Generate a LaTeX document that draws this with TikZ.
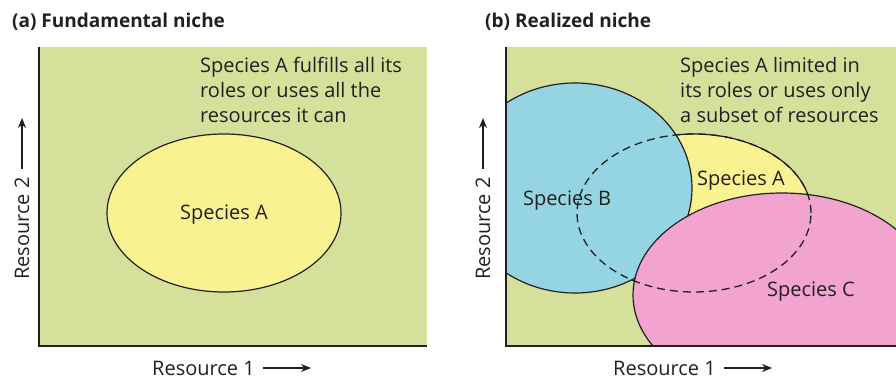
\documentclass[tikz,border=0pt]{standalone}
\usepackage{fontspec}
\setmainfont{Open Sans}
\usetikzlibrary{arrows.meta}
\definecolor{ink}{RGB}{35,31,32}
\definecolor{nichegreen}{RGB}{213,225,154}
\definecolor{nicheyellow}{RGB}{249,242,145}
\definecolor{nicheblue}{RGB}{149,213,227}
\definecolor{nichepink}{RGB}{242,163,207}

\begin{document}
\begin{tikzpicture}[x=1pt,y=-1pt,
        every node/.style={font=\fontsize{20}{25}\selectfont, text=ink, inner sep=0pt},
        title/.style={font=\bfseries\fontsize{19}{22}\selectfont, anchor=west},
        niche/.style={draw=ink, line width=1.2pt},
        axis/.style={draw=ink, line width=1.8pt},
        pointer/.style={-{Stealth[length=10pt,width=8pt]}, line width=1.3pt, draw=ink}]
        \useasboundingbox (0,0) rectangle (896,379);
        % (a) fundamental niche
        \node[title] (titleA) at (12,22) {(a) Fundamental niche};
        \fill[nichegreen] (39,47) rectangle (427,346);
        \filldraw[niche, fill=nicheyellow] (224,213) ellipse [x radius=117pt, y radius=79pt];
        \draw[axis] (39,47) -- (39,346) -- (427,346);
        \node[anchor=north west, align=left] (roleA) at (200,57) {Species A fulfills all its\\roles or uses all the\\resources it can};
        \node (spA) at (224,215) {Species A};
        \node[anchor=west] (resXa) at (152,368) {Resource 1};
        \coordinate (tipXa) at (311,368);
        \draw[pointer] ([xshift=8pt]resXa.east) -- (tipXa);
        \node[rotate=90, anchor=west] (resYa) at (22,280) {Resource 2};
        \coordinate (tipYa) at (22,118);
        \draw[pointer] ([yshift=8pt]resYa.east) -- (tipYa);
        % (b) realized niche
        \node[title] (titleB) at (485,22) {(b) Realized niche};
        \begin{scope}
            \clip (506,47) rectangle (896,346);
            \fill[nichegreen] (506,47) rectangle (896,346);
            \filldraw[niche, fill=nicheyellow] (694,213) ellipse [x radius=117pt, y radius=79pt];
            \filldraw[niche, fill=nicheblue] (575,188) ellipse [x radius=117pt, y radius=105pt];
            \filldraw[niche, fill=nichepink] (782,295) ellipse [x radius=149pt, y radius=102pt];
            \draw[niche, line width=1.3pt, dash pattern=on 8pt off 5pt] (694,213) ellipse [x radius=117pt, y radius=79pt];
        \end{scope}
        \draw[axis] (506,47) -- (506,346) -- (896,346);
        \node[anchor=north west, align=left] (roleB) at (680,57) {Species A limited in\\its roles or uses only\\a subset of resources};
        \node (spAb) at (741,181) {Species A};
        \node (spB) at (567,201) {Species B};
        \node (spC) at (811,292) {Species C};
        \node[anchor=west] (resXb) at (613,368) {Resource 1};
        \coordinate (tipXb) at (772,368);
        \draw[pointer] ([xshift=8pt]resXb.east) -- (tipXb);
        \node[rotate=90, anchor=west] (resYb) at (483,280) {Resource 2};
        \coordinate (tipYb) at (483,118);
        \draw[pointer] ([yshift=8pt]resYb.east) -- (tipYb);
\end{tikzpicture}
\end{document}
